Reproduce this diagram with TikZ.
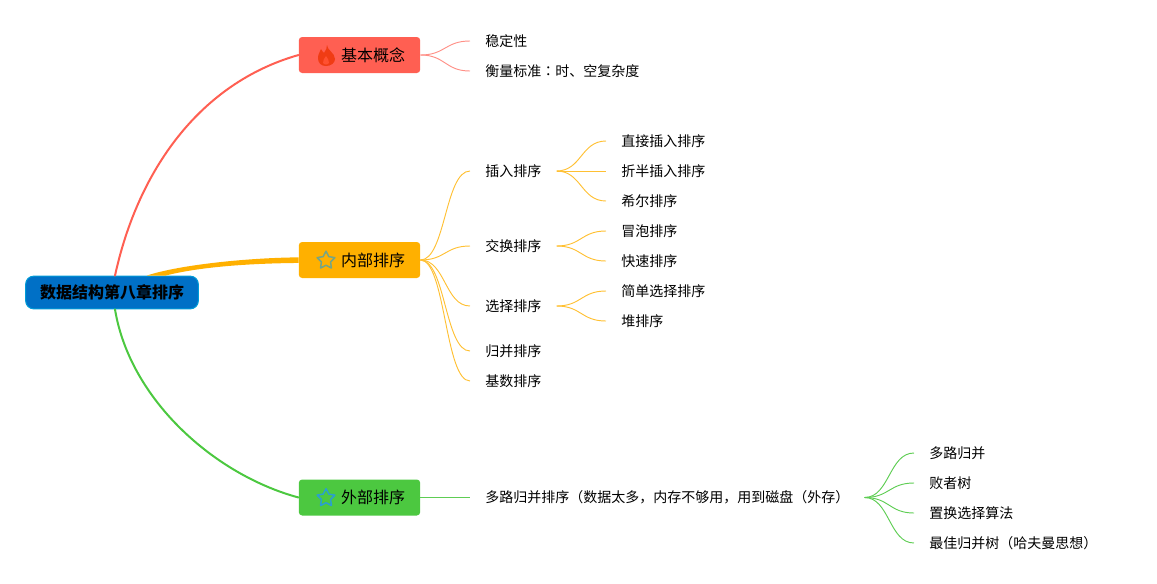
\documentclass[tikz,border=0pt]{standalone}
\usepackage{fontspec}
\setmainfont{Noto Sans CJK SC}
\newfontfamily\tcfont{Noto Sans CJK TC}
\usetikzlibrary{positioning,shapes.geometric}
\usepackage{xcolor}
\definecolor{rootblue}{HTML}{0070C6}
\definecolor{redb}{HTML}{FF5F52}
\definecolor{orangeb}{HTML}{FFB000}
\definecolor{greenb}{HTML}{4CC840}
\definecolor{staricon}{HTML}{2A9FD0}
\definecolor{flame}{HTML}{F03C14}
\definecolor{flamein}{HTML}{FF5030}

\begin{document}
\begin{tikzpicture}[x=0.75pt,y=-0.75pt,
    m/.style={line width=1.5pt,line cap=round},%
    t/.style={line width=0.7pt,to path={.. controls +(25,0) and +(-25,0) .. (\tikztotarget)}},%
    lr/.style={t,draw=redb!70},%
    lo/.style={t,draw=orangeb!80},%
    lg/.style={t,draw=greenb!90},%
    r/.style={draw=rootblue!70!cyan,line width=0.8pt,fill=rootblue,rounded corners=6pt,minimum width=129.5pt,minimum height=24.5pt,inner sep=0pt,font=\fontsize{12pt}{12pt}\selectfont\bfseries},%
    b/.style={rounded corners=2.5pt,minimum width=91pt,minimum height=27pt,inner sep=0pt,font=\fontsize{12pt}{12pt}\selectfont},%
    l/.style={anchor=west,inner xsep=11.25pt,inner ysep=0pt,text height=9.2pt,text depth=1.3pt,font=\fontsize{10.5pt}{10.5pt}\selectfont},%
    sicon/.style={star,star points=5,star point ratio=1.95,draw,line width=1.1pt,line join=round,inner sep=0pt,minimum size=14pt}]
    \useasboundingbox (0,0) rectangle (1157,583);
    % root and the three branches
    \node[r] (Root) at (112,292.5) {数据结构第八章排序} ;
    \node[b,fill=redb] (Base) at (359.5,55) {\hspace*{20.5pt}基本概念} ;
    \node[b,fill=orangeb] (Intern) at (359.5,260) {\hspace*{20.5pt}内部排序} ;
    \node[b,fill=greenb] (Extern) at (359.5,497.5) {\hspace*{20.5pt}\raisebox{-0.5pt}{外部排序}} ;
    % icons
    \node[sicon,draw=staricon!65!orangeb] (StarI) at (326,260.5) {} ;
    \node[sicon,draw=staricon] (StarE) at (326,498) {} ;
    \fill[flame] (327,45) .. controls (327,50) and (335,53) .. (335,59) .. controls (335,63) and (331,66) .. (326,66) .. controls (321,66) and (318,63) .. (318,58) .. controls (318,54) and (320,52) .. (321,49) .. controls (322,51) and (323,52) .. (324,53) .. controls (326,50) and (327,48) .. (327,45) -- cycle ;
    \fill[flamein] (326,56) .. controls (325,59) and (322,60) .. (323,63) .. controls (324,65) and (328,65) .. (329,63) .. controls (330,60) and (327,59) .. (326,56) -- cycle ;
    % main connectors
    \draw[m,draw=redb] ([xshift=2.25pt]Root.north) .. controls (138,170) and (200,83) .. (Base.west) ;
    \fill[orangeb] ([xshift=26pt]Root.north) .. controls (175,266) and (240,258) .. ([yshift=2pt]Intern.west) -- ([yshift=-2.2pt]Intern.west) .. controls (240,263.5) and (195,268) .. ([xshift=40pt]Root.north) -- cycle ;
    \draw[m,draw=greenb] ([xshift=2.25pt]Root.south) .. controls (130,400) and (215,475) .. (Extern.west) ;
    % first branch
    \node[l] (Stab) at (470,41) {稳定性} ;
    \node[l] (Mesure) at (470,71) {衡量标准{\tcfont ：}时、空复杂度} ;
    \draw[lr] (Base.east) to (Stab.west) ;
    \draw[lr] (Base.east) to (Mesure.west) ;
    % second branch
    \node[l] (Ins) at (470,171) {插入排序} ;
    \node[l] (Ech) at (470,246) {交换排序} ;
    \node[l] (Sel) at (470,306) {选择排序} ;
    \node[l] (Fus) at (470,351) {归并排序} ;
    \node[l] (Rad) at (470,381) {基数排序} ;
    \draw[lo] (Intern.east) to (Ins.west) ;
    \draw[lo] (Intern.east) to (Ech.west) ;
    \draw[lo] (Intern.east) to (Sel.west) ;
    \draw[lo] (Intern.east) to (Fus.west) ;
    \draw[lo] (Intern.east) to (Rad.west) ;
    \node[l] (InsD) at (606,141) {直接插入排序} ;
    \node[l] (InsB) at (606,171) {折半插入排序} ;
    \node[l] (Shell) at (606,201) {希尔排序} ;
    \draw[lo] (Ins.east) to (InsD.west) ;
    \draw[lo] (Ins.east) to (InsB.west) ;
    \draw[lo] (Ins.east) to (Shell.west) ;
    \node[l] (Bul) at (606,231) {冒泡排序} ;
    \node[l] (Quick) at (606,261) {快速排序} ;
    \draw[lo] (Ech.east) to (Bul.west) ;
    \draw[lo] (Ech.east) to (Quick.west) ;
    \node[l] (SelS) at (606,291) {简单选择排序} ;
    \node[l] (Tas) at (606,321) {堆排序} ;
    \draw[lo] (Sel.east) to (SelS.west) ;
    \draw[lo] (Sel.east) to (Tas.west) ;
    % third branch
    \node[l] (Multi) at (470,497.5) {多路归并排序（数据太多，内存不够用，用到磁盘（外存）} ;
    \draw[lg] (Extern.east) to (Multi.west) ;
    \node[l] (MulA) at (914,453) {多路归并} ;
    \node[l] (MulB) at (914,483) {败者树} ;
    \node[l] (MulC) at (914,513) {置换选择算法} ;
    \node[l] (MulD) at (914,543) {最佳归并树（哈夫曼思想）} ;
    \draw[lg] (Multi.east) to (MulA.west) ;
    \draw[lg] (Multi.east) to (MulB.west) ;
    \draw[lg] (Multi.east) to (MulC.west) ;
    \draw[lg] (Multi.east) to (MulD.west) ;
\end{tikzpicture}
\end{document}
